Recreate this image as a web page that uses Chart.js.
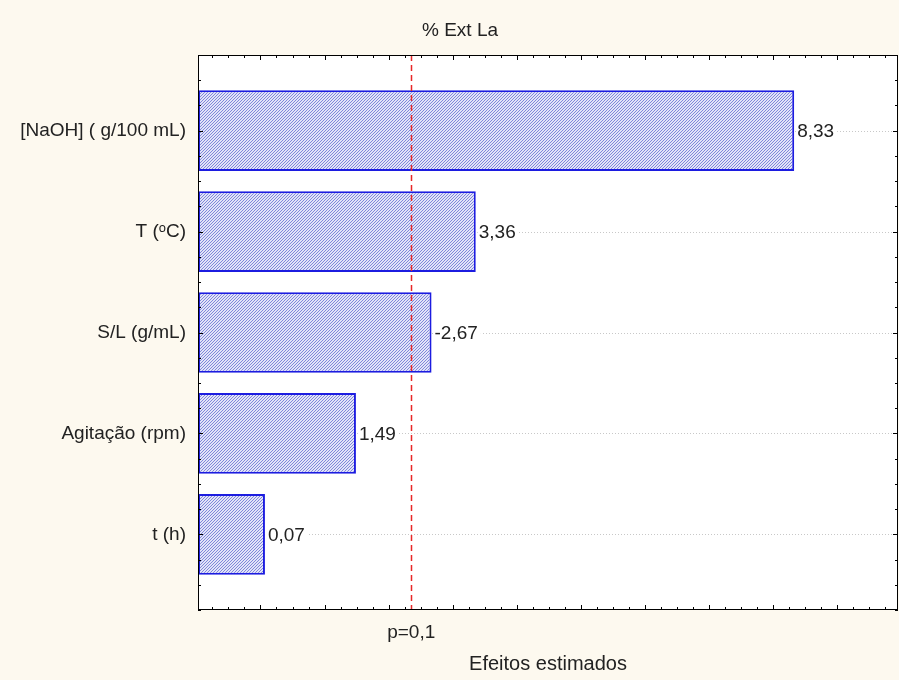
<!DOCTYPE html>
<html><head><meta charset="utf-8">
<script src="https://cdn.jsdelivr.net/npm/chart.js@4.4.0/dist/chart.umd.min.js"></script>
<style>html,body{margin:0;padding:0;background:#fdf9ef}</style></head>
<body>
<canvas id="c" width="899" height="680" style="display:block;width:899px;height:680px"></canvas>
<script>
const factors = ['[NaOH] ( g/100 mL)', 'T (\u1D52C)', 'S/L (g/mL)', 'Agita\u00e7\u00e3o (rpm)', 't (h)'];
const effects = [8.33, 3.36, -2.67, 1.49, 0.07];
const pCritical = 2.353;
const pLabel = 'p=0,1';
const chartTitle = '% Ext La';
const xTitle = 'Efeitos estimados';
const xMin = -0.975, xMax = 9.95;
const yMin = -0.75, yMax = 4.75;

const FONT = "'Liberation Sans', Arial, sans-serif";
const ctx = document.getElementById('c').getContext('2d');

function hatch() {
  const c = document.createElement('canvas');
  c.width = 3; c.height = 3;
  const g = c.getContext('2d');
  g.fillStyle = '#e2e4f8'; g.fillRect(0, 0, 3, 3);
  g.fillStyle = '#8087da';
  g.fillRect(2, 0, 1, 1); g.fillRect(1, 1, 1, 1); g.fillRect(0, 2, 1, 1);
  return ctx.createPattern(c, 'repeat');
}

const fmt = v => v.toFixed(2).replace('.', ',');

const deco = {
  id: 'deco',
  beforeDraw(chart) {
    const {ctx, chartArea: a} = chart;
    ctx.save();
    ctx.fillStyle = '#fdf9ef'; ctx.fillRect(0, 0, chart.width, chart.height);
    ctx.fillStyle = '#ffffff'; ctx.fillRect(a.left, a.top, a.right - a.left, a.bottom - a.top);
    ctx.fillStyle = '#222222';
    ctx.font = '19px ' + FONT;
    ctx.textAlign = 'center'; ctx.textBaseline = 'middle';
    ctx.fillText(chartTitle, 460, 31);
    ctx.restore();
  },
  beforeDatasetsDraw(chart) {
    const {ctx, chartArea: a, scales: {y}} = chart;
    ctx.save();
    ctx.strokeStyle = '#c8c8c8'; ctx.lineWidth = 1; ctx.setLineDash([1, 2]);
    factors.forEach((f, i) => {
      const py = Math.round(y.getPixelForValue(i)) + 0.5;
      ctx.beginPath(); ctx.moveTo(a.left, py); ctx.lineTo(a.right, py); ctx.stroke();
    });
    ctx.restore();
  },
  afterDatasetsDraw(chart) {
    const {ctx, chartArea: a, scales: {x}} = chart;
    const meta = chart.getDatasetMeta(0);
    ctx.save();
    ctx.font = '19px ' + FONT;
    ctx.textBaseline = 'middle';
    meta.data.forEach((bar, i) => {
      const t = fmt(effects[i]);
      const w = ctx.measureText(t).width;
      ctx.fillStyle = '#ffffff';
      ctx.fillRect(bar.x + 2, bar.y - 10, w + 4, 20);
      ctx.fillStyle = '#222222';
      ctx.fillText(t, bar.x + 3, bar.y + 1);
    });
    const px = Math.round(x.getPixelForValue(pCritical)) + 0.5;
    ctx.strokeStyle = '#e82828'; ctx.lineWidth = 1.5; ctx.setLineDash([6, 4]);
    ctx.beginPath(); ctx.moveTo(px, a.top); ctx.lineTo(px, a.bottom); ctx.stroke();
    ctx.restore();
  },
  afterDraw(chart) {
    const {ctx, chartArea: a, scales: {x, y}} = chart;
    ctx.save();
    ctx.strokeStyle = '#000000'; ctx.lineWidth = 1;
    ctx.strokeRect(a.left + 0.5, a.top + 0.5, a.right - a.left - 1, a.bottom - a.top - 1);
    ctx.beginPath();
    for (let v = Math.ceil(xMin * 4) / 4; v <= xMax + 1e-9; v += 0.25) {
      const px = Math.round(x.getPixelForValue(v)) + 0.5;
      const L = Math.abs(v - Math.round(v)) < 1e-6 ? 5 : 3;
      ctx.moveTo(px, a.bottom); ctx.lineTo(px, a.bottom - L);
      ctx.moveTo(px, a.top); ctx.lineTo(px, a.top + L);
    }
    for (let v = yMin; v <= yMax + 1e-9; v += 0.25) {
      const py = Math.round(y.getPixelForValue(v)) + 0.5;
      const L = Math.abs(v - Math.round(v)) < 1e-6 ? 5 : 3;
      ctx.moveTo(a.left, py); ctx.lineTo(a.left + L, py);
      ctx.moveTo(a.right, py); ctx.lineTo(a.right - L, py);
    }
    ctx.stroke();
    ctx.restore();
  }
};

new Chart(ctx, {
  type: 'bar',
  data: {
    datasets: [{
      data: effects.map((e, i) => ({x: Math.abs(e), y: i})),
      base: xMin,
      backgroundColor: hatch(),
      borderColor: '#1c1ce0',
      borderWidth: 2,
      borderSkipped: false,
      barPercentage: 0.8,
      categoryPercentage: 1
    }]
  },
  options: {
    indexAxis: 'y',
    responsive: false,
    animation: false,
    layout: {padding: {left: 0, right: 1, top: 55, bottom: 0}},
    plugins: {
      legend: {display: false},
      tooltip: {enabled: false},
      title: {display: false}
    },
    scales: {
      x: {
        type: 'linear', min: xMin, max: xMax,
        grid: {display: false, drawTicks: false},
        border: {display: false},
        afterBuildTicks: s => { s.ticks = [{value: pCritical}]; },
        afterFit: s => { s.height = 70; },
        ticks: {callback: () => pLabel, color: '#222222', padding: 11, maxRotation: 0,
          font: {family: FONT, size: 19}},
        title: {display: true, text: xTitle, color: '#222222', font: {family: FONT, size: 20}}
      },
      y: {
        type: 'linear', min: yMin, max: yMax, reverse: true, offset: false,
        grid: {display: false, drawTicks: false, offset: false},
        border: {display: false},
        afterBuildTicks: s => { s.ticks = factors.map((f, i) => ({value: i})); },
        afterFit: s => { s.width = 198; },
        ticks: {callback: v => factors[v], color: '#222222', padding: 12,
          font: {family: FONT, size: 19}}
      }
    }
  },
  plugins: [deco]
});
</script>
</body></html>
